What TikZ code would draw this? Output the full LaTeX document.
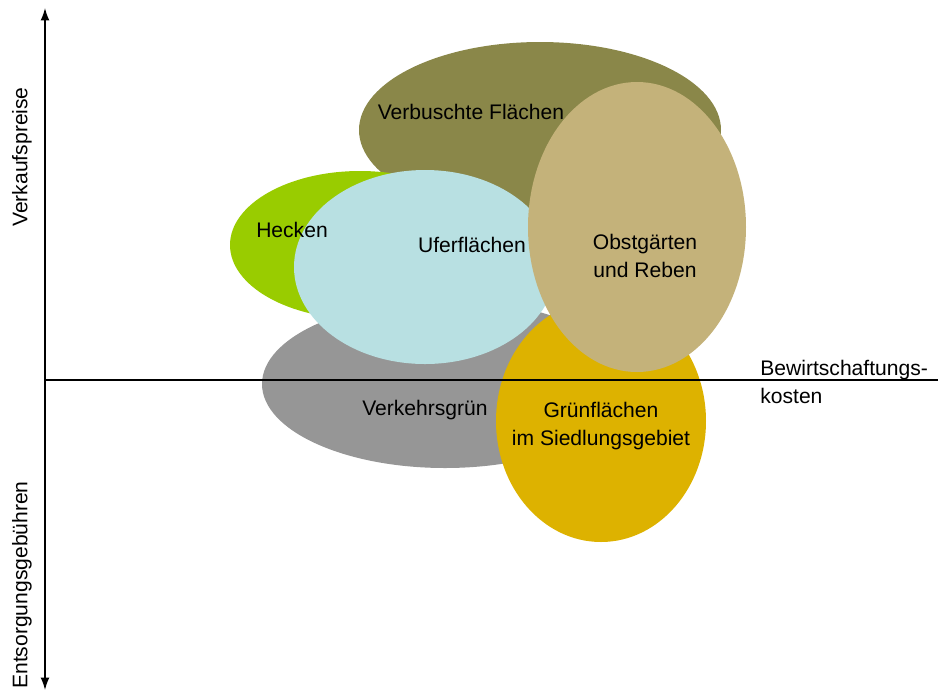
\documentclass[tikz,border=0pt]{standalone}
\usepackage{fontspec}
\setmainfont{Liberation Sans}
\usepackage{xcolor}
\usetikzlibrary{arrows.meta}
\tikzset{>={Latex[length=7pt,width=5pt]}}
\definecolor{olivegreen}{RGB}{138,135,73}
\definecolor{hedgegreen}{RGB}{153,204,0}
\definecolor{shoreblue}{RGB}{184,224,226}
\definecolor{orchardtan}{RGB}{196,178,122}
\definecolor{roadgray}{RGB}{150,150,150}
\definecolor{parkyellow}{RGB}{221,178,0}
\tikzstyle{area}=[inner sep=0pt,font=\fontsize{12}{15.5}\selectfont,align=center]
\tikzstyle{axislabel}=[inner sep=0pt,font=\fontsize{12}{15.5}\selectfont]

\begin{document}
\begin{tikzpicture}[x=0.02cm,y=-0.02cm]
      \useasboundingbox (0,0) rectangle (938,691);
      \coordinate (O) at (45,380);
      \coordinate (Top) at (45,8);
      \coordinate (Bottom) at (45,690);
      \coordinate (Right) at (938,380);

      % AREAS
      \fill[roadgray] (445,384) ellipse [x radius=183, y radius=84];
      \fill[olivegreen] (540,130) ellipse [x radius=181, y radius=88];
      \fill[hedgegreen] (360,245) ellipse [x radius=130, y radius=74];
      \fill[shoreblue] (425,267) ellipse [x radius=131, y radius=97];
      \fill[parkyellow] (601,421) ellipse [x radius=105, y radius=121];
      \fill[orchardtan] (637,227) ellipse [x radius=109, y radius=145];

      \node[area] (verbuscht) at (471,112) {Verbuschte Flächen};
      \node[area] (hecken) at (292,230) {Hecken};
      \node[area] (ufer) at (472,245) {Uferflächen};
      \node[area] (obst) at (645,256) {Obstgärten\\und Reben};
      \node[area] (verkehr) at (425,410) {Verkehrsgrün};
      \node[area] (siedlung) at (601,426) {Grünflächen\\im Siedlungsgebiet};

      % AXIS
      \draw[<->,line width=0.8pt] (Top) -- (Bottom);
      \draw[line width=0.8pt] (O) -- (Right);
      \node[axislabel,align=left,anchor=west] (kosten) at (760,382) {Bewirtschaftungs-\\kosten};
      \node[axislabel,rotate=90] (preise) at (22,157) {Verkaufspreise};
      \node[axislabel,rotate=90] (gebuehren) at (22,585) {Entsorgungsgebühren};

    \end{tikzpicture}
\end{document}
